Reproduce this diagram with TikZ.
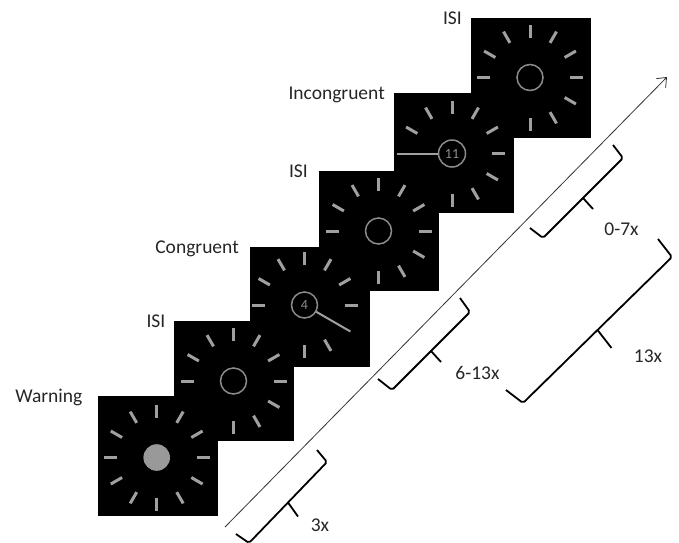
\documentclass[tikz,border=0pt]{standalone}
\usepackage{fontspec}
\setmainfont{Carlito}
\usetikzlibrary{calc,arrows.meta}
\definecolor{tickgrey}{HTML}{A0A0A0}
\definecolor{ringgrey}{HTML}{8C8C8C}
\definecolor{dotgrey}{HTML}{999999}
\definecolor{arrowgrey}{HTML}{333333}
\tikzset{
  screen/.style={fill=black, draw=none, minimum width=120pt, minimum height=120pt,
    inner sep=0pt, outer sep=0pt, anchor=north west},
  tickmark/.style={draw=tickgrey, line width=3pt},
  ring/.style={draw=ringgrey, line width=1.5pt},
  hand/.style={draw=tickgrey, line width=2pt},
  lbl/.style={font=\fontsize{19.5}{23}\selectfont, inner sep=0pt, anchor=base east, text=black!85},
  cnt/.style={font=\fontsize{19.5}{23}\selectfont, inner sep=0pt, text=black!85},
  digit/.style={font=\fontsize{14}{16}\selectfont, text=ringgrey, inner sep=0pt},
  bracket/.style={draw=black, line width=1.8pt, rounded corners=2pt},
  bracetip/.style={draw=black, line width=1.8pt},
  timeline/.style={draw=arrowgrey, line width=0.8pt, -{Straight Barb[length=8pt,width=13pt]}},
}
\newcommand\clockticks[2]{%
  \foreach \a in {0,30,...,330}{%
    \ifnum\a=#2\relax\else
      \draw[tickmark] ($(#1)+(\a:40)$) -- ($(#1)+(\a:53)$);
    \fi}}
% name, upper corner, lower corner, upper hook offset, lower hook offset, tip offset
\newcommand\tbrace[6]{%
  \coordinate (#1m) at ($(#2)!0.5!(#3)$);
  \coordinate (#1t) at ($(#1m)+(#6)$);
  \draw[bracket] ($(#2)+(#4)$) -- (#2) -- (#1m) -- (#3) -- ($(#3)+(#5)$);
  \draw[bracetip] (#1m) -- (#1t);
}
\begin{document}
\begin{tikzpicture}[x=1pt,y=-1pt]
\useasboundingbox (0,0) rectangle (679,542);

% ---- screens, back to front ----
% ISI (top)
\node[screen] (s6) at (470.7,17.5) {};
\coordinate (c6) at (530,77.5);
\clockticks{c6}{-1}
\draw[ring] (c6) circle[radius=13pt];

% Incongruent
\node[screen] (s5) at (394,93) {};
\coordinate (c5) at (452,153.5);
\clockticks{c5}{180}
\draw[ring] (c5) circle[radius=13.5pt];
\draw[hand] ($(c5)+(180:14)$) -- ($(c5)+(180:55)$);
\node[digit] (d5) at (c5) {11};

% ISI
\node[screen] (s4) at (319,170.7) {};
\coordinate (c4) at (378.5,231);
\clockticks{c4}{-1}
\draw[ring] (c4) circle[radius=13pt];

% Congruent
\node[screen] (s3) at (250,247) {};
\coordinate (c3) at (304.5,305);
\clockticks{c3}{30}
\draw[ring] (c3) circle[radius=13pt];
\draw[hand] ($(c3)+(30:13.5)$) -- ($(c3)+(30:53)$);
\node[digit] (d3) at (c3) {4};

% ISI
\node[screen] (s2) at (173.5,320.7) {};
\coordinate (c2) at (233.5,381);
\clockticks{c2}{-1}
\draw[ring] (c2) circle[radius=13pt];

% Warning
\node[screen] (s1) at (97.7,396) {};
\coordinate (c1) at (156.7,457.5);
\clockticks{c1}{-1}
\fill[dotgrey] (c1) circle[radius=13.3pt];

% ---- labels ----
\node[lbl] (lw)  at (82.5,402.5) {Warning};
\node[lbl] (li1) at (165.5,327) {ISI};
\node[lbl] (lc)  at (239,253.5) {Congruent};
\node[lbl] (li2) at (308,177) {ISI};
\node[lbl] (lin) at (385,99.5) {Incongruent};
\node[lbl] (li3) at (462,24) {ISI};

% ---- time arrow ----
\coordinate (ts) at (225,527);
\coordinate (te) at (667,77);
\draw[timeline] (ts) -- (te);

% ---- braces ----
\coordinate (b1a) at (327,462);
\coordinate (b1b) at (249,543);
\tbrace{b1}{b1a}{b1b}{-10,-12}{-13,-9}{10,14}
\coordinate (b2a) at (470,312);
\coordinate (b2b) at (392,390);
\tbrace{b2}{b2a}{b2b}{-10,-14}{-14,-11}{10,11}
\coordinate (b3a) at (672,257);
\coordinate (b3b) at (523,403);
\tbrace{b3}{b3a}{b3b}{-14,-18}{-17,-13}{14,18}
\coordinate (b4a) at (623,158);
\coordinate (b4b) at (543,238);
\tbrace{b4}{b4a}{b4b}{-10,-13}{-13,-10}{10,11}

\node[cnt] (t3)   at (320,525.5) {3x};
\node[cnt] (t613) at (477.5,373) {6-13x};
\node[cnt] (t13)  at (648,356.5) {13x};
\node[cnt] (t07)  at (621.5,229) {0-7x};
\end{tikzpicture}
\end{document}
